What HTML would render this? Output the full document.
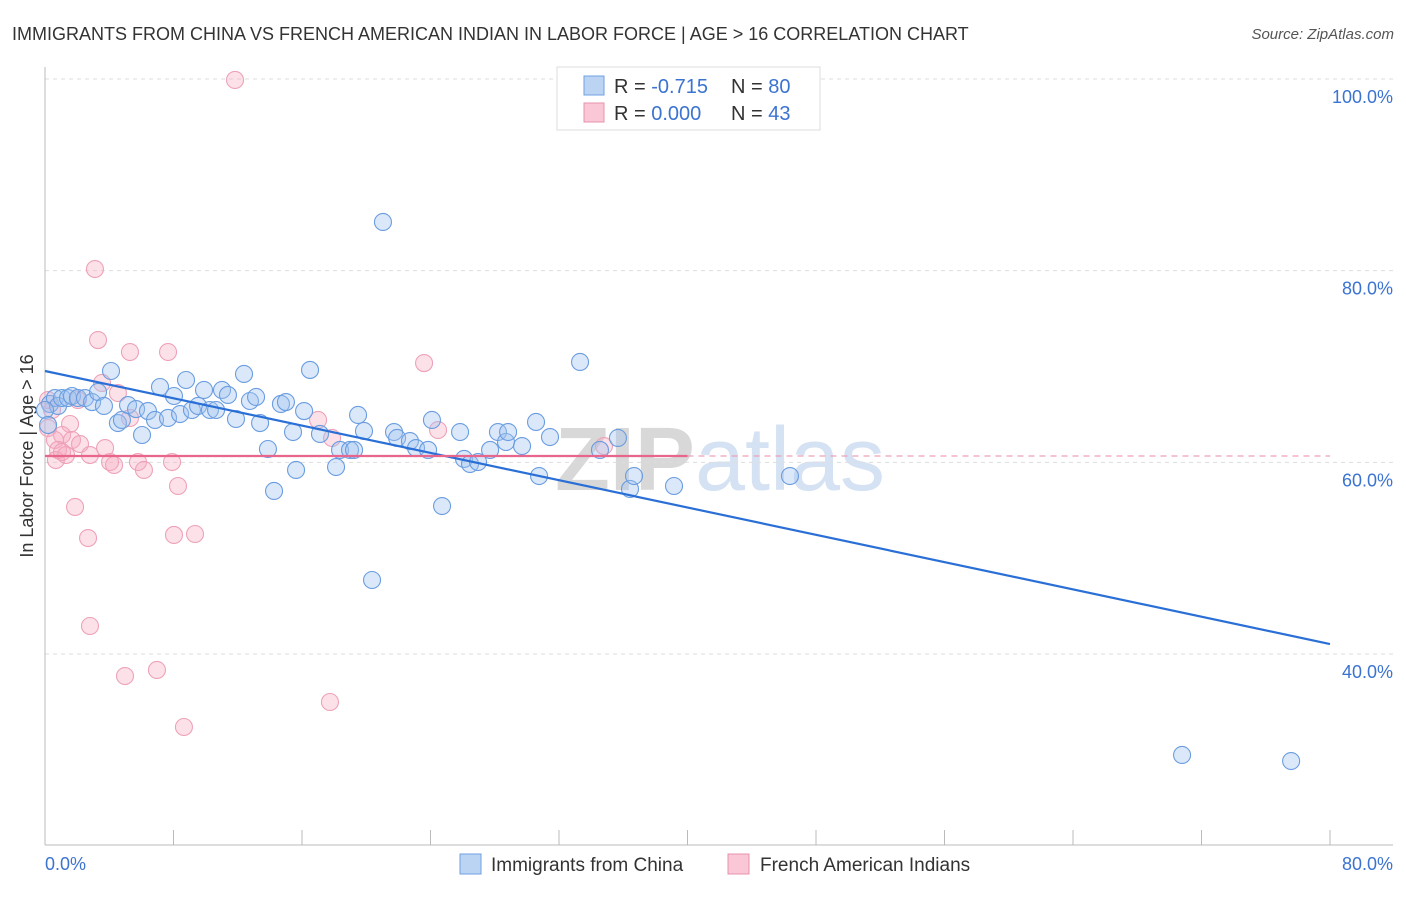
<!DOCTYPE html>
<html><head><meta charset="utf-8"><style>
body{margin:0;background:#fff;font-family:"Liberation Sans",sans-serif}
svg text{font-family:"Liberation Sans",sans-serif}
</style></head><body>
<svg id="c" width="1406" height="892">
<text x="12" y="40" font-size="18" fill="#333">IMMIGRANTS FROM CHINA VS FRENCH AMERICAN INDIAN IN LABOR FORCE | AGE &gt; 16 CORRELATION CHART</text>
<text x="1394" y="39" font-size="15" fill="#555" font-style="italic" text-anchor="end">Source: ZipAtlas.com</text>
<text x="720" y="490" font-size="90" fill="#e4e4e4" text-anchor="middle" font-family="Liberation Serif"><tspan font-weight="bold" fill="#d8d8d8">ZIP</tspan><tspan fill="#d5e2f3" font-family="Liberation Sans">atlas</tspan></text>
<text transform="translate(33,456) rotate(-90)" font-size="18" fill="#333" text-anchor="middle">In Labor Force | Age &gt; 16</text>
<g id="grid"></g><g id="marks"></g>
<g>
<rect x="557" y="67" width="263" height="63" fill="#fff" stroke="#ddd"/>
<rect x="584" y="76" width="20" height="19" fill="#bcd4f4" stroke="#6f9fe0"/>
<rect x="584" y="103" width="20" height="19" fill="#f9c7d5" stroke="#e891ab"/>
<text x="614" y="93" font-size="20" fill="#333">R = <tspan fill="#3b73d1">-0.715</tspan></text>
<text x="731" y="93" font-size="20" fill="#333">N = <tspan fill="#3b73d1">80</tspan></text>
<text x="614" y="120" font-size="20" fill="#333">R = <tspan fill="#3b73d1">0.000</tspan></text>
<text x="731" y="120" font-size="20" fill="#333">N = <tspan fill="#3b73d1"> 43</tspan></text>
</g>
<g>
<rect x="460" y="854" width="21" height="20" fill="#bcd4f4" stroke="#6f9fe0"/>
<text x="491" y="871" font-size="19" fill="#333">Immigrants from China</text>
<rect x="728" y="854" width="21" height="20" fill="#f9c7d5" stroke="#e891ab"/>
<text x="760" y="871" font-size="19" fill="#333">French American Indians</text>
</g>
</svg>
<script>
const yTicks=[100,80,60,40];
const yTickLabels=["100.0%","80.0%","60.0%","40.0%"];
const xTicks=[0,8,16,24,32,40,48,56,64,72,80];
const xTickLabels=["0.0%","80.0%"];
const chinaX=[0.31,0.62,0.81,1.06,1.43,1.68,2.05,2.49,2.93,3.30,3.67,4.11,4.54,4.79,5.17,5.67,6.04,6.41,6.85,7.16,7.66,8.03,8.41,8.78,9.15,9.53,9.90,10.27,10.65,11.02,11.39,11.89,12.39,12.76,13.14,13.39,13.88,14.26,14.69,15.00,15.44,15.63,16.13,16.50,17.12,18.12,18.37,18.99,19.24,19.49,19.86,20.36,21.04,21.73,21.92,22.72,23.10,23.85,24.09,24.72,25.84,26.09,26.46,26.96,27.71,28.20,28.70,28.83,29.70,30.57,30.76,31.44,33.31,34.55,35.67,36.42,36.67,39.16,46.38,70.79,77.58,0,0.19];
const chinaY=[66.09,66.71,65.88,66.71,66.71,66.92,66.71,66.71,66.29,67.34,65.88,69.53,64.10,64.42,65.98,65.56,62.85,65.35,64.42,67.86,64.63,66.92,65.04,68.59,65.46,65.88,67.55,65.46,65.46,67.55,67.03,64.52,69.22,66.40,66.82,64.10,61.39,57.01,66.09,66.29,63.16,59.20,65.35,69.64,62.96,59.51,61.29,61.29,61.29,64.94,63.27,47.72,85.08,63.16,62.54,62.22,61.49,61.29,64.42,55.44,63.16,60.35,59.83,60.03,61.29,63.16,62.12,63.16,61.70,64.21,58.57,62.64,70.47,61.29,62.54,57.22,58.57,57.53,58.57,29.46,28.83,65.46,63.90];
const frenchX=[11.83,3.11,3.30,5.29,7.66,23.60,3.55,4.54,2.05,5.29,0.19,1.56,1.06,1.68,2.18,2.80,0.62,0.81,0.68,1.06,3.74,4.05,4.30,5.79,6.16,7.91,8.28,17.00,17.87,24.47,34.80,1.87,2.68,8.03,9.34,2.80,4.98,6.97,8.65,17.74,0.19,1.31,0.44];
const frenchY=[99.90,80.17,72.76,71.51,71.51,70.36,68.28,67.23,66.50,64.63,63.58,64.00,62.85,62.33,61.91,60.76,62.33,61.29,60.24,61.08,61.49,60.03,59.72,60.03,59.20,60.03,57.53,64.42,62.54,63.37,61.70,55.34,52.10,52.42,52.52,42.92,37.70,38.33,32.38,34.99,66.50,60.76,65.46];
const chinaTrend=[69.53,41.04];
const frenchTrend=60.66;
const NS="http://www.w3.org/2000/svg";
const sx=v=>45+v*(1285/80);
const sy=v=>79+(100-v)*9.583;
function mk(tag,attrs,parent){const e=document.createElementNS(NS,tag);for(const k in attrs)e.setAttribute(k,attrs[k]);parent.appendChild(e);return e;}
const grid=document.getElementById('grid'),marks=document.getElementById('marks');
yTicks.forEach((t,i)=>{
  const l=mk('line',{x1:45,x2:1393,y1:sy(t),y2:sy(t),stroke:'#ddd','stroke-dasharray':'4,4'},grid);
  
  
  const tx=mk('text',{x:1393,y:sy(t)+24,'font-size':18,fill:'#3b73d1','text-anchor':'end'},grid);
  tx.textContent=yTickLabels[i];
  
  
});
const ax=mk('line',{x1:45,x2:45,y1:67,y2:845,stroke:'#bbb'},grid);


const bx=mk('line',{x1:45,x2:1393,y1:845,y2:845,stroke:'#bbb'},grid);


xTicks.forEach(t=>{
  const l=mk('line',{x1:sx(t),x2:sx(t),y1:830,y2:845,stroke:'#bbb'},grid);
  
  
});
[[0,'start',45],[80,'end',1393]].forEach((d,i)=>{
  const tx=mk('text',{x:d[2],y:870,'font-size':18,fill:'#3b73d1','text-anchor':d[1]},grid);
  tx.textContent=xTickLabels[i];
  
  
});
frenchX.forEach((x,i)=>{
  const c=mk('circle',{cx:sx(x),cy:sy(frenchY[i]),r:8.5,fill:'rgba(246,170,192,0.35)',stroke:'#eea2b8','stroke-width':1.1},marks);
  
  
});
chinaX.forEach((x,i)=>{
  const c=mk('circle',{cx:sx(x),cy:sy(chinaY[i]),r:8.5,fill:'rgba(160,195,240,0.38)',stroke:'#6a9de0','stroke-width':1.1},marks);
  
  
});
const ct=mk('line',{x1:sx(0),y1:sy(chinaTrend[0]),x2:sx(80),y2:sy(chinaTrend[1]),stroke:'#2a6fd6','stroke-width':2.2},marks);


const ft=mk('line',{x1:sx(0),y1:sy(frenchTrend),x2:sx(40),y2:sy(frenchTrend),stroke:'#e8668c','stroke-width':2.2},marks);


const fd=mk('line',{x1:sx(40),y1:sy(frenchTrend),x2:sx(80),y2:sy(frenchTrend),stroke:'#eea0b6','stroke-width':1.2,'stroke-dasharray':'6,5'},marks);


</script>
</body></html>
